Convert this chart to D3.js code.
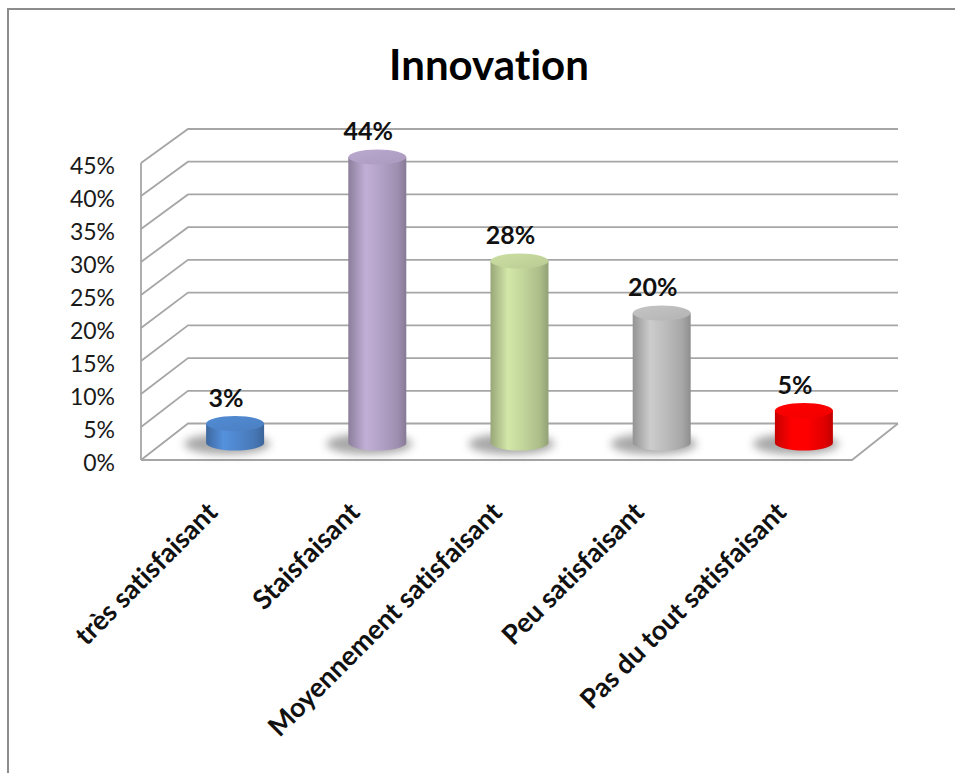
<!DOCTYPE html>
<html>
<head>
<meta charset="utf-8">
<script src="https://cdn.jsdelivr.net/npm/d3@7"></script>
<style>
  html, body { margin: 0; padding: 0; background: #ffffff; }
  svg { display: block; }
  text { font-variant-ligatures: none; font-feature-settings: "liga" 0, "clig" 0; }
</style>
</head>
<body>
<svg id="chart" width="955" height="773"></svg>
<script>
// ---- data ----
const title = "Innovation";
const categories = ["très satisfaisant", "Staisfaisant", "Moyennement satisfaisant", "Peu satisfaisant", "Pas du tout satisfaisant"];
const values = [0.03, 0.44, 0.28, 0.20, 0.05];
const valueLabels = ["3%", "44%", "28%", "20%", "5%"];
const tickValues = [0, 0.05, 0.10, 0.15, 0.20, 0.25, 0.30, 0.35, 0.40, 0.45];
const tickLabels = ["0%", "5%", "10%", "15%", "20%", "25%", "30%", "35%", "40%", "45%"];
const barColors = ["#4f86cc", "#b3a2c7", "#c3d69b", "#bdbdbd", "#ff0000"];

// ---- layout ----
const svg = d3.select("#chart");
const defs = svg.append("defs");
const FONT = "Lato, 'Open Sans', sans-serif";

// outer frame (right & bottom edges fall outside the picture)
svg.append("rect").attr("x", 8).attr("y", 9).attr("width", 1000).attr("height", 1000)
  .attr("fill", "none").attr("stroke", "#8c8c8c").attr("stroke-width", 2);

// title
svg.append("text").attr("x", 489).attr("y", 80).attr("text-anchor", "middle")
  .attr("font-family", FONT).attr("font-weight", "bold")
  .attr("font-size", 42).attr("fill", "#000").text(title);

// scales: front plane, back plane, bar plane
const yMax = 0.45;
const yFront = d3.scaleLinear().domain([0, yMax]).range([460, 163]);
const yBack  = d3.scaleLinear().domain([0, yMax]).range([423.5, 129]);
const yBar   = d3.scaleLinear().domain([0, yMax]).range([443, 150.5]);
const xFront = d3.scaleBand().domain(categories).range([141, 852]);
const xBack  = d3.scaleBand().domain(categories).range([188, 898]);
const xBar   = d3.scaleBand().domain(categories).range([164, 875]);

const gridColor = "#a6a6a6";
const grid = svg.append("g").attr("fill", "none").attr("stroke", gridColor).attr("stroke-width", 1.8);

// left wall + back wall gridlines
tickValues.forEach(t => {
  grid.append("path").attr("d",
    `M${xFront.range()[0]},${yFront(t)} L${xBack.range()[0]},${yBack(t)} L${xBack.range()[1]},${yBack(t)}`);
});
// front left vertical edge
grid.append("line").attr("x1", xFront.range()[0]).attr("x2", xFront.range()[0])
  .attr("y1", yFront(0)).attr("y2", yFront(yMax));
// floor outline
grid.append("path").attr("d",
  `M${xFront.range()[0]},${yFront(0)} L${xFront.range()[1]},${yFront(0)} L${xBack.range()[1]},${yBack(0)}`);

// y axis labels
const yAxis = d3.axisLeft(yFront).tickValues(tickValues)
  .tickFormat((d, i) => tickLabels[i]).tickSize(0).tickPadding(0);
const yAxisG = svg.append("g").attr("transform", "translate(115,3)").call(yAxis);
yAxisG.select(".domain").remove();
yAxisG.selectAll("text").attr("font-family", FONT)
  .attr("font-size", 23).attr("fill", "#1a1a1a").attr("x", 0);

// shadow filter
const f = defs.append("filter").attr("id", "blur").attr("x", "-50%").attr("y", "-100%")
  .attr("width", "200%").attr("height", "300%");
f.append("feGaussianBlur").attr("stdDeviation", 4);

// gradients
barColors.forEach((c, i) => {
  const base = d3.color(c);
  const g = defs.append("linearGradient").attr("id", "body" + i)
    .attr("x1", "0%").attr("x2", "100%").attr("y1", "0%").attr("y2", "0%");
  [[0, base.darker(0.7)], [0.3, base.brighter(0.22)], [0.55, base], [0.85, base.darker(0.35)], [1, base.darker(0.8)]]
    .forEach(([o, col]) => g.append("stop").attr("offset", o).attr("stop-color", col.formatHex()));
  const t = defs.append("linearGradient").attr("id", "top" + i)
    .attr("x1", "0%").attr("x2", "100%").attr("y1", "0%").attr("y2", "100%");
  [[0, base.brighter(0.12)], [1, base.darker(0.15)]]
    .forEach(([o, col]) => t.append("stop").attr("offset", o).attr("stop-color", col.formatHex()));
});

const bw = 58, rx = bw / 2, ry = 7.5;
const bars = svg.append("g");
categories.forEach((cat, i) => {
  const cx = xBar(cat) + xBar.bandwidth() / 2;
  const yb = yBar(0), yt = yBar(values[i]);
  // shadow
  bars.append("ellipse").attr("cx", cx - 8).attr("cy", yb + 1).attr("rx", rx + 14).attr("ry", ry + 3)
    .attr("fill", "#6e6e6e").attr("opacity", 0.6).attr("filter", "url(#blur)");
  // body
  bars.append("path").attr("d",
    `M${cx - rx},${yt} L${cx - rx},${yb} A${rx},${ry} 0 0 0 ${cx + rx},${yb} L${cx + rx},${yt} Z`)
    .attr("fill", `url(#body${i})`);
  // top
  bars.append("ellipse").attr("cx", cx).attr("cy", yt).attr("rx", rx).attr("ry", ry)
    .attr("fill", `url(#top${i})`);
  // value label
  bars.append("text").attr("x", cx - 9).attr("y", yt - 17).attr("text-anchor", "middle")
    .attr("font-family", FONT).attr("font-weight", "bold")
    .attr("font-size", 25).attr("fill", "#111").text(valueLabels[i]);
});

// category labels
const xLab = svg.append("g");
categories.forEach(cat => {
  const x = xBar(cat) + xBar.bandwidth() / 2 - 16;
  xLab.append("text").attr("transform", `translate(${x},514) rotate(-45)`)
    .attr("text-anchor", "end")
    .attr("font-family", FONT).attr("font-weight", "bold")
    .attr("font-size", 27).attr("fill", "#111").text(cat);
});
</script>
</body>
</html>
